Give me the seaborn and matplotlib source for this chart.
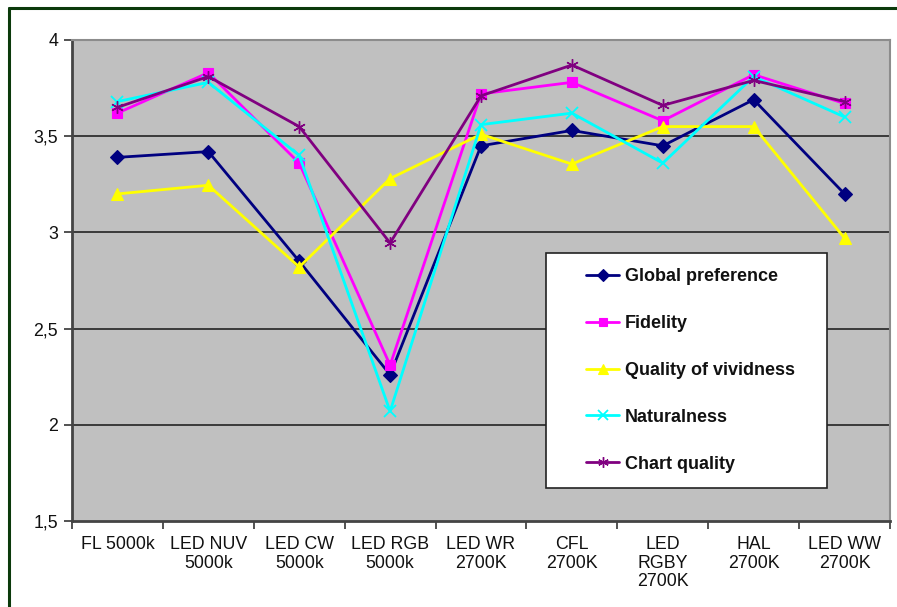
import matplotlib
matplotlib.use("Agg")
import matplotlib.pyplot as plt
from matplotlib.patches import Rectangle
from matplotlib.lines import Line2D
from matplotlib.ticker import FixedLocator, NullFormatter
import pandas as pd
import seaborn as sns

categories = ["FL 5000k", "LED NUV\n5000k", "LED CW\n5000k", "LED RGB\n5000k",
              "LED WR\n2700K", "CFL\n2700K", "LED\nRGBY\n2700K", "HAL\n2700K",
              "LED WW\n2700K"]

global_preference = [3.39, 3.42, 2.85, 2.26, 3.45, 3.53, 3.45, 3.69, 3.20]
fidelity = [3.62, 3.83, 3.36, 2.31, 3.72, 3.78, 3.58, 3.82, 3.67]
quality_of_vividness = [3.20, 3.245, 2.82, 3.28, 3.51, 3.355, 3.55, 3.55, 2.97]
naturalness = [3.68, 3.78, 3.40, 2.07, 3.56, 3.62, 3.36, 3.81, 3.60]
chart_quality = [3.65, 3.81, 3.55, 2.945, 3.71, 3.87, 3.66, 3.79, 3.68]

series_names = ["Global preference", "Fidelity", "Quality of vividness",
                "Naturalness", "Chart quality"]
series_values = [global_preference, fidelity, quality_of_vividness,
                 naturalness, chart_quality]

y_ticks = [1.5, 2, 2.5, 3, 3.5, 4]
y_tick_labels = ["1,5", "2", "2,5", "3", "3,5", "4"]

colors = ["#000080", "#FF00FF", "#FFFF00", "#00FFFF", "#800080"]
markers = ["D", "s", "^", "x", (6, 2, 0)]
marker_sizes = [7, 7, 9, 8, 9]
edge_widths = [0.8, 0.8, 0.8, 1.3, 1.0]

rows = []
for name, vals in zip(series_names, series_values):
    for cat, v in zip(categories, vals):
        rows.append({"category": cat, "value": v, "series": name})
df = pd.DataFrame(rows)

sns.set_style("white")
plt.rcParams["font.family"] = ["Liberation Sans", "DejaVu Sans"]

fig = plt.figure(figsize=(8.97, 6.07), dpi=100)
W, H = 897, 607
ax = fig.add_axes([72 / W, 1 - 521 / H, (890 - 72) / W, (521 - 40) / H])
ax.set_facecolor("#C0C0C0")

for name, color, mk, ms, ew in zip(series_names, colors, markers,
                                   marker_sizes, edge_widths):
    sub = df[df["series"] == name]
    sns.lineplot(data=sub, x="category", y="value", ax=ax, color=color,
                 marker=mk, markersize=ms, markeredgecolor=color,
                 markeredgewidth=ew, linewidth=2, label=name, sort=False)

ax.set_xlim(-0.5, len(categories) - 0.5)
ax.set_ylim(1.5, 4)

# horizontal gridlines
ax.yaxis.set_major_locator(FixedLocator(y_ticks))
ax.set_yticklabels(y_tick_labels)
for y in y_ticks[1:-1]:
    ax.axhline(y, color="#3a3a3a", lw=1.4, zorder=0.5)

# category boundaries as major ticks, labels centred on minor ticks
positions = list(range(len(categories)))
ax.xaxis.set_major_locator(FixedLocator([p - 0.5 for p in positions] + [len(categories) - 0.5]))
ax.xaxis.set_major_formatter(NullFormatter())
ax.set_xticks(positions, minor=True)
ax.set_xticklabels(categories, minor=True, fontsize=12.8, linespacing=1.1,
                   color="#111111")
ax.tick_params(axis="x", which="minor", length=0, pad=11)
ax.tick_params(axis="x", which="major", length=6, width=1.3, color="#444444",
               direction="out", bottom=True)
ax.tick_params(axis="y", length=6, width=1.3, color="#444444", direction="out",
               labelsize=12.8, labelcolor="#111111", pad=4, left=True)

ax.set_xlabel("")
ax.set_ylabel("")

for side in ("left", "bottom"):
    ax.spines[side].set_color("#444444")
    ax.spines[side].set_linewidth(2)
for side in ("top", "right"):
    ax.spines[side].set_color("#8c8c8c")
    ax.spines[side].set_linewidth(1.5)

# legend box (white panel with a dark border) and its entries
px_x = lambda x: (x - 72) / 818
px_y = lambda y: (521 - y) / 481
ax.add_patch(Rectangle((px_x(546), px_y(488)), px_x(827) - px_x(546),
                       px_y(253) - px_y(488), transform=ax.transAxes,
                       facecolor="white", edgecolor="#222222", linewidth=1.2,
                       zorder=4.5))
leg = ax.legend(loc="center left",
                bbox_to_anchor=(px_x(586), px_y(370.5)),
                frameon=False, prop={"weight": "bold", "size": 13},
                labelspacing=1.65, handlelength=1.85, handletextpad=0.3,
                borderpad=0, borderaxespad=0, markerscale=0.85)
leg.set_zorder(5)
for t in leg.get_texts():
    t.set_color("#111111")

# outer chart frame (left and top edges)
fig.add_artist(Line2D([8.5 / W, 8.5 / W], [0, 1 - 7.5 / H],
                      transform=fig.transFigure, color="#0b3a0b", lw=2.2))
fig.add_artist(Line2D([8.5 / W, 1], [1 - 7.5 / H, 1 - 7.5 / H],
                      transform=fig.transFigure, color="#0b3a0b", lw=2.2))

fig.savefig("out.png", dpi=100)
